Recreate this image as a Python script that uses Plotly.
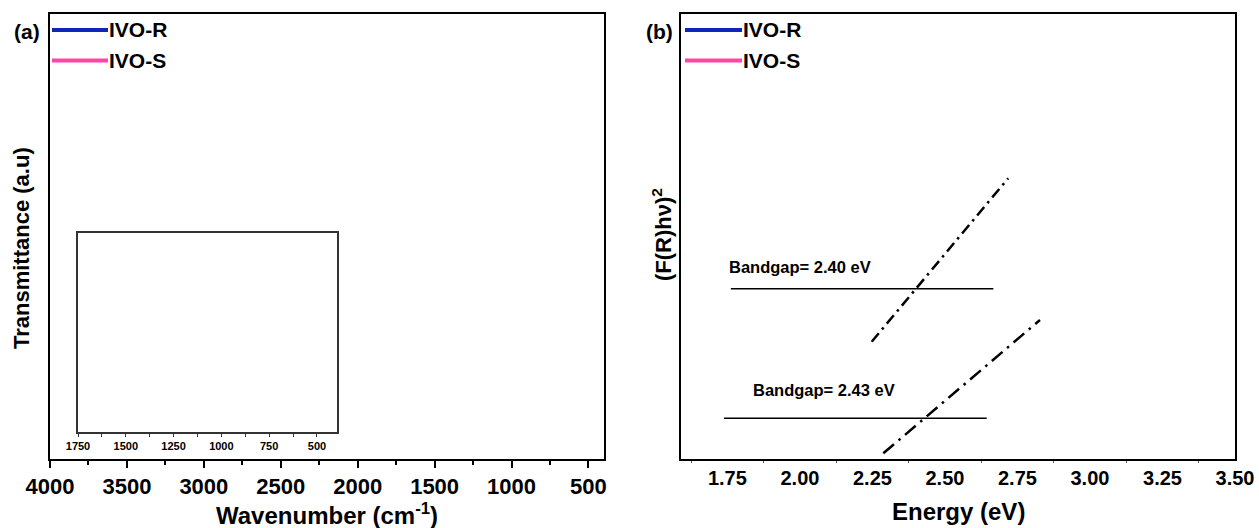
import plotly.graph_objects as go

# ---------------- data ----------------
series_names = ["IVO-R", "IVO-S"]
series_colors = ["#1024b8", "#ff45a8"]

# panel (a) axis ticks
ftir_ticks = [4000, 3500, 3000, 2500, 2000, 1500, 1000, 500]
inset_ticks = [1750, 1500, 1250, 1000, 750, 500]

# panel (b) axis ticks
energy_ticks = [1.75, 2.00, 2.25, 2.50, 2.75, 3.00, 3.25, 3.50]

# Tauc-plot tangent lines (endpoints) for IVO-R (upper) and IVO-S (lower)
fit_r_x = [2.2475, 2.718]
fit_r_y = [0.2636, 0.6308]
fit_s_x = [2.2875, 2.8277]
fit_s_y = [0.0128, 0.3124]

# baselines
base_r_x = [1.762, 2.667]
base_r_y = [0.3827, 0.3827]
base_s_x = [1.738, 2.644]
base_s_y = [0.0915, 0.0915]

bandgap_labels = ["Bandgap= 2.40 eV", "Bandgap= 2.43 eV"]
bandgap_label_x = [1.7486, 1.830]
bandgap_label_y = [0.432, 0.155]

FONT = "Liberation Sans, Arial, sans-serif"
W, H = 1259, 528

def px(x):
    return x / W

def py(y):
    return 1 - y / H

fig = go.Figure()

# empty spectra (no visible data in the reference) - main panel and inset
for name, col in zip(series_names, series_colors):
    for xa, ya in [("x", "y"), ("x3", "y3")]:
        fig.add_trace(go.Scatter(x=[None], y=[None], mode="lines", name=name,
                                 line=dict(color=col, width=4),
                                 xaxis=xa, yaxis=ya, showlegend=False))

# panel (b) tangent lines
fig.add_trace(go.Scatter(x=fit_r_x, y=fit_r_y, mode="lines", showlegend=False,
                         line=dict(color="black", width=2.5, dash="11px,5px,2.5px,5px"),
                         xaxis="x2", yaxis="y2"))
fig.add_trace(go.Scatter(x=fit_s_x, y=fit_s_y, mode="lines", showlegend=False,
                         line=dict(color="black", width=2.5, dash="14px,6px,2.5px,6px"),
                         xaxis="x2", yaxis="y2"))
fig.add_trace(go.Scatter(x=base_r_x, y=base_r_y, mode="lines", showlegend=False,
                         line=dict(color="black", width=1.5),
                         xaxis="x2", yaxis="y2"))
fig.add_trace(go.Scatter(x=base_s_x, y=base_s_y, mode="lines", showlegend=False,
                         line=dict(color="black", width=1.5),
                         xaxis="x2", yaxis="y2"))

for t, x, y in zip(bandgap_labels, bandgap_label_x, bandgap_label_y):
    fig.add_annotation(text=t, x=x, y=y, xref="x2", yref="y2", xanchor="left",
                       yanchor="middle", showarrow=False,
                       font=dict(family=FONT, size=16.5, color="black", weight="bold"))

axis_common = dict(showline=True, linecolor="black", linewidth=2, mirror=True,
                   showgrid=False, zeroline=False, automargin=False)

fig.update_layout(
    template="none",
    width=W, height=H,
    margin=dict(l=0, r=0, t=0, b=0, pad=0),
    paper_bgcolor="white", plot_bgcolor="white",
    font=dict(family=FONT, color="black"),
    showlegend=False,
    xaxis=dict(domain=[px(50), px(604)], range=[4000, 399], anchor="y",
               tickmode="array", tickvals=ftir_ticks,
               ticktext=[str(v) for v in ftir_ticks],
               ticks="outside", ticklen=7, tickwidth=1.5, tickcolor="black",
               minor=dict(ticks="outside", ticklen=4, tickwidth=1.5, tickcolor="black", dtick=250),
               tickfont=dict(family=FONT, size=22, weight="bold"),
               **axis_common),
    yaxis=dict(domain=[py(459), py(14)], range=[0, 1], anchor="x",
               showticklabels=False, ticks="", **axis_common),
    xaxis2=dict(domain=[px(681), px(1235)], range=[1.59, 3.5], anchor="y2",
                tickmode="array", tickvals=energy_ticks,
                ticktext=["%.2f" % v for v in energy_ticks],
                ticks="outside", ticklen=0, tickcolor="black",
                minor=dict(ticks="outside", ticklen=2, tickwidth=1, tickcolor="#555", dtick=0.25, tick0=1.625),
                tickfont=dict(family=FONT, size=20, weight="bold"),
                ticklabelstandoff=0,
                **axis_common),
    yaxis2=dict(domain=[py(459), py(14)], range=[0, 1], anchor="x2",
                showticklabels=False, ticks="", **axis_common),
    xaxis3=dict(domain=[px(78), px(337)], range=[1750, 395], anchor="y3",
                tickmode="array", tickvals=inset_ticks,
                ticktext=[str(v) for v in inset_ticks],
                ticks="outside", ticklen=3, tickwidth=1, tickcolor="#333",
                minor=dict(ticks="outside", ticklen=3, tickwidth=1, tickcolor="#333", dtick=125, tick0=1625),
                tickfont=dict(family=FONT, size=11, weight="bold"),
                showline=True, linecolor="#333", linewidth=1.5, mirror=True,
                showgrid=False, zeroline=False, automargin=False),
    yaxis3=dict(domain=[py(432), py(233)], range=[0, 1], anchor="x3",
                showticklabels=False, ticks="",
                showline=True, linecolor="#333", linewidth=1.5, mirror=True,
                showgrid=False, zeroline=False, automargin=False),
)

# axis titles
title_font = dict(family=FONT, size=24, color="black", weight="bold")
fig.add_annotation(text="Wavenumber (cm<sup>-1</sup>)", x=px(327), y=py(514),
                   xref="paper", yref="paper", xanchor="center", yanchor="middle",
                   showarrow=False, font=title_font)
fig.add_annotation(text="Energy (eV)", x=px(958), y=py(511),
                   xref="paper", yref="paper", xanchor="center", yanchor="middle",
                   showarrow=False, font=title_font)
fig.add_annotation(text="Transmittance (a.u)", x=px(21), y=py(248), textangle=-90,
                   xref="paper", yref="paper", xanchor="center", yanchor="middle",
                   showarrow=False, font=dict(family=FONT, size=22, color="black", weight="bold"))
fig.add_annotation(text="(F(R)hν)<sup>2</sup>", x=px(662), y=py(235), textangle=-90,
                   xref="paper", yref="paper", xanchor="center", yanchor="middle",
                   showarrow=False, font=dict(family=FONT, size=22, color="black", weight="bold"))

# panel labels
for lab, x in [("(a)", 27), ("(b)", 660)]:
    fig.add_annotation(text=lab, x=px(x), y=py(31), xref="paper", yref="paper",
                       xanchor="center", yanchor="middle", showarrow=False,
                       font=dict(family=FONT, size=21, color="black", weight="bold"))

# manual legends
legend_rows_y = [30, 60.5]
for x0, x1 in [(52, 108), (685, 742)]:
    for name, col, yy in zip(series_names, series_colors, legend_rows_y):
        fig.add_shape(type="line", xref="paper", yref="paper",
                      x0=px(x0), x1=px(x1), y0=py(yy), y1=py(yy),
                      line=dict(color=col, width=4))
        fig.add_annotation(text=name, x=px(x1 - 1), y=py(yy), xref="paper", yref="paper",
                           xanchor="left", yanchor="middle", showarrow=False,
                           font=dict(family=FONT, size=21, color="black", weight="bold"))

fig.write_html("out.html")
